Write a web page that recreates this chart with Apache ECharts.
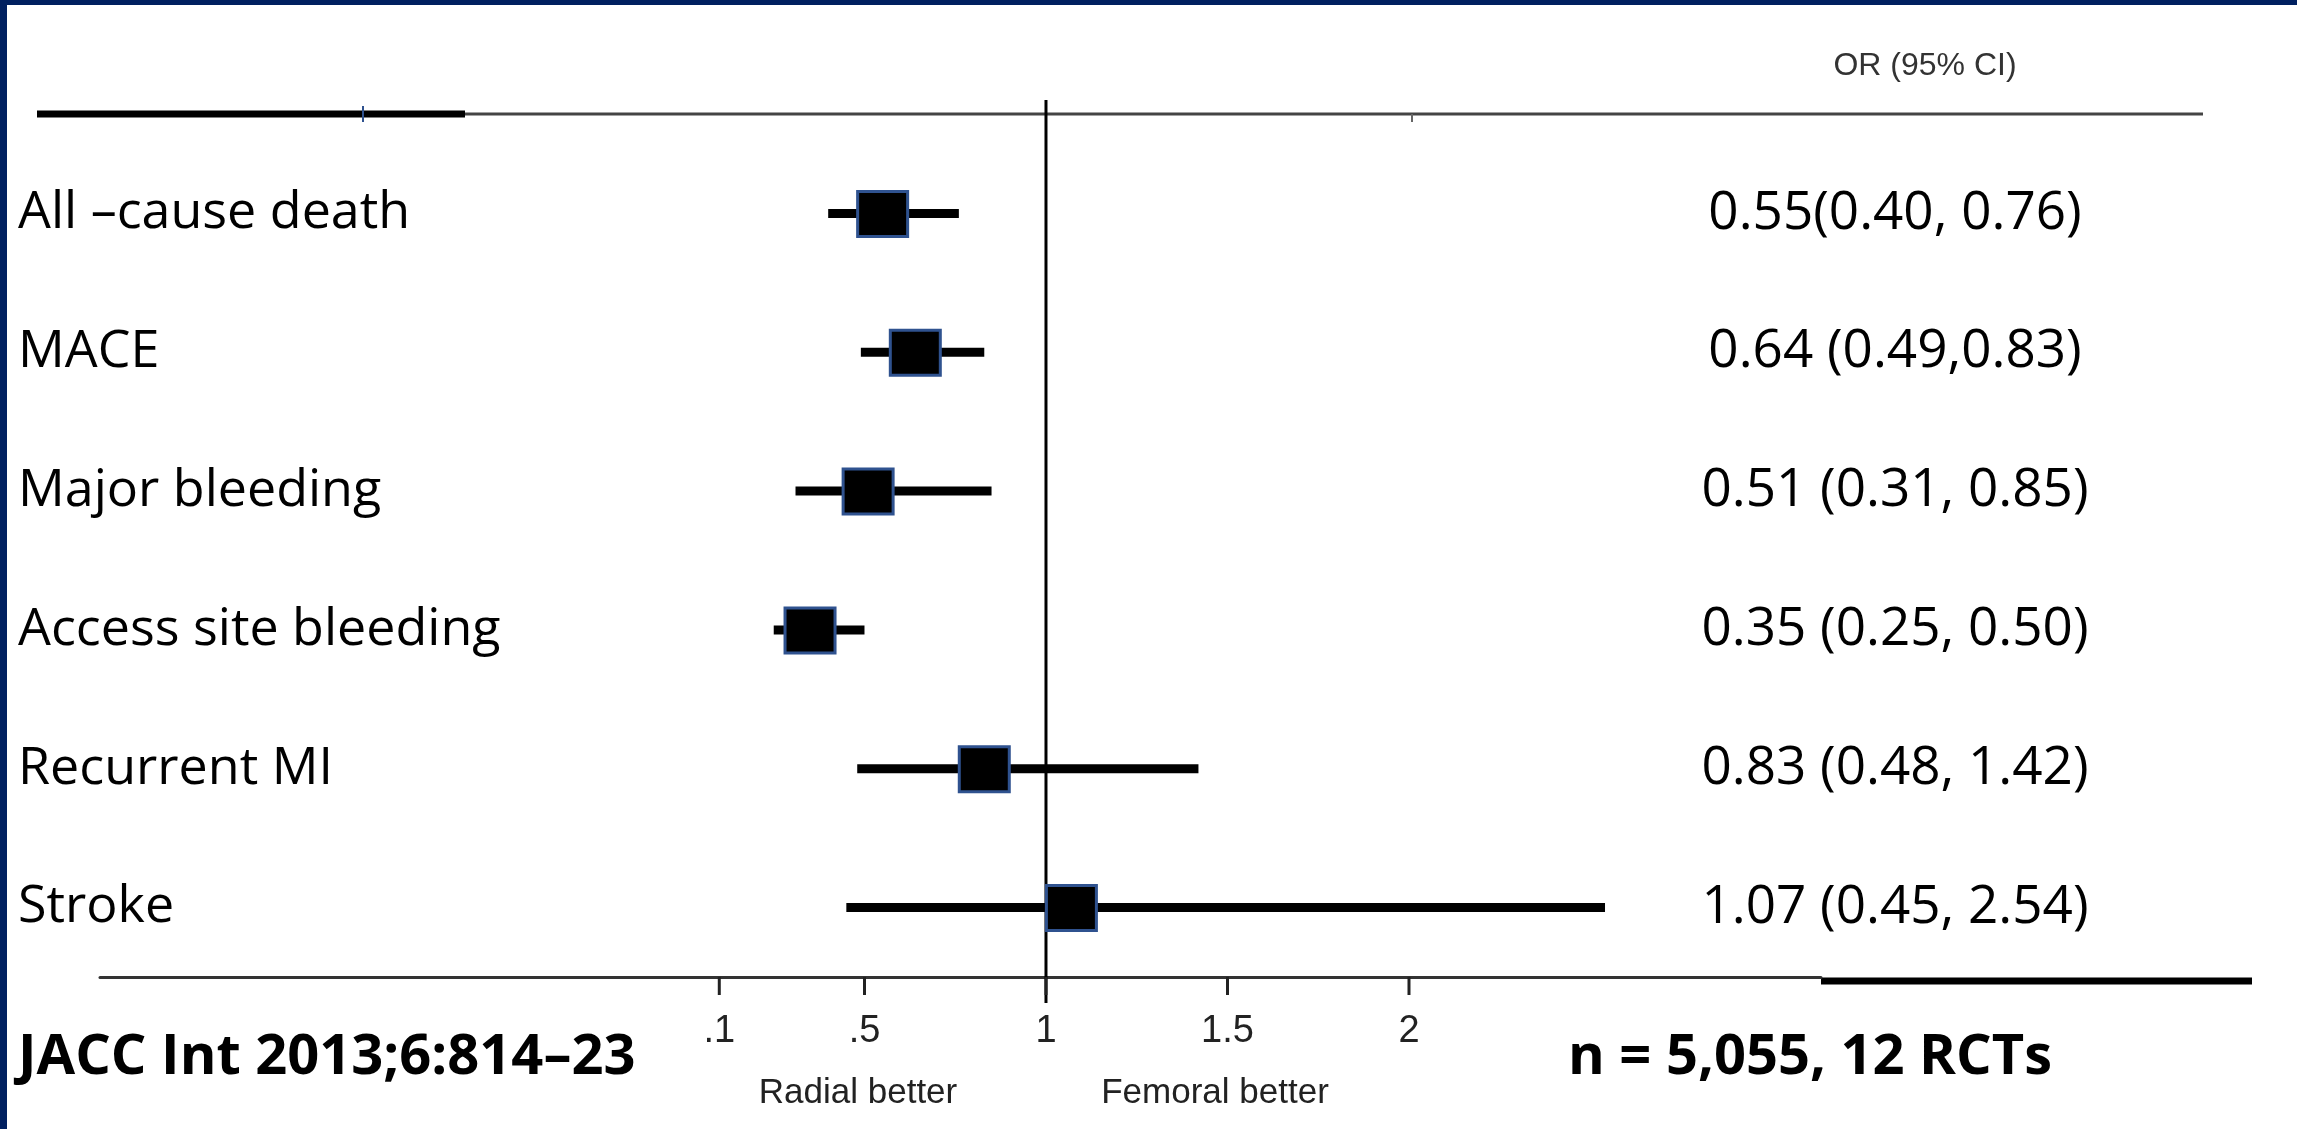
<!DOCTYPE html>
<html>
<head>
<meta charset="utf-8">
<style>
    html, body { margin: 0; padding: 0; background: #fff; }
    #chart { width: 2297px; height: 1129px; }
</style>
<script src="https://cdn.jsdelivr.net/npm/echarts@6.0.0/dist/echarts.min.js"></script>
</head>
<body>
<div id="chart"></div>
<script>
// data
var outcomes = ['All \u2013cause death', 'MACE', 'Major bleeding', 'Access site bleeding', 'Recurrent MI', 'Stroke'];
var oddsRatio = [0.55, 0.64, 0.51, 0.35, 0.83, 1.07];
var ciLow = [0.40, 0.49, 0.31, 0.25, 0.48, 0.45];
var ciHigh = [0.76, 0.83, 0.85, 0.50, 1.42, 2.54];
var ciText = ['0.55(0.40, 0.76)', '0.64 (0.49,0.83)', '0.51 (0.31, 0.85)', '0.35 (0.25, 0.50)', '0.83 (0.48, 1.42)', '1.07 (0.45, 2.54)'];
var tickValues = [0.1, 0.5, 1, 1.5, 2];
var tickLabels = ['.1', '.5', '1', '1.5', '2'];
var refValue = 1;

var forestData = [];
for (let i = 0; i < outcomes.length; i++) {
    forestData.push([ciLow[i], ciHigh[i], oddsRatio[i], i]);
}

var chart = echarts.init(document.getElementById('chart'));

var option = {
    animation: false,
    backgroundColor: '#fff',
    grid: { left: 100, right: 476, top: 144, bottom: 152 },
    xAxis: {
        type: 'value',
        min: -1.606,
        max: 3.135,
        axisLine: { show: true, onZero: false, lineStyle: { color: '#333', width: 3 } },
        axisTick: { show: false },
        axisLabel: {
            customValues: tickValues,
            formatter: function (v) {
                let idx = 0;
                for (let k = 0; k < tickValues.length; k++) {
                    if (Math.abs(tickValues[k] - v) < 1e-6) idx = k;
                }
                return tickLabels[idx];
            },
            margin: 36,
            fontSize: 38,
            fontFamily: 'Liberation Sans',
            color: '#222'
        },
        splitLine: { show: false }
    },
    yAxis: [{
        type: 'category',
        data: outcomes,
        inverse: true,
        axisLine: { show: false },
        axisTick: { show: false },
        axisLabel: {
            align: 'left',
            margin: 82,
            fontSize: 52,
            fontFamily: 'Open Sans',
            color: '#000'
        }
    }, {
        type: 'category',
        position: 'right',
        data: ciText,
        inverse: true,
        axisLine: { show: false },
        axisTick: { show: false },
        axisLabel: {
            align: 'center',
            margin: 74,
            fontSize: 53,
            fontFamily: 'Open Sans',
            color: '#000'
        }
    }],
    series: [{
        // vertical line of no effect plus the axis ticks, placed through the x scale
        type: 'custom',
        data: [[refValue, 0]],
        encode: { x: 0, y: 1 },
        clip: false,
        renderItem: function (params, api) {
            var p = api.coord([api.value(0), 0]);
            var cs = params.coordSys;
            var yb = cs.y + cs.height;
            var children = [{
                type: 'line',
                shape: { x1: p[0], y1: cs.y - 44, x2: p[0], y2: yb + 26 },
                style: { stroke: '#000', lineWidth: 3 }
            }];
            for (let k = 0; k < tickValues.length; k++) {
                var t = api.coord([tickValues[k], 0]);
                children.push({
                    type: 'line',
                    shape: { x1: t[0], y1: yb, x2: t[0], y2: yb + 18 },
                    style: { stroke: '#222', lineWidth: 3 }
                });
            }
            return { type: 'group', children: children };
        },
        z: 1
    }, {
        type: 'custom',
        data: forestData,
        encode: { x: [0, 1, 2], y: 3 },
        renderItem: function (params, api) {
            var row = api.value(3);
            var p0 = api.coord([api.value(0), row]);
            var p1 = api.coord([api.value(1), row]);
            var pc = api.coord([api.value(2), row]);
            return {
                type: 'group',
                children: [{
                    type: 'line',
                    shape: { x1: p0[0], y1: p0[1], x2: p1[0], y2: p1[1] },
                    style: { stroke: '#000', lineWidth: 9 }
                }, {
                    type: 'rect',
                    shape: { x: pc[0] - 25, y: pc[1] - 22, width: 50, height: 45 },
                    style: { fill: '#000', stroke: '#2f528f', lineWidth: 3 }
                }]
            };
        },
        z: 2
    }],
    graphic: [
        // slide frame
        { type: 'rect', shape: { x: 0, y: 0, width: 2297, height: 5 }, style: { fill: '#002060' } },
        { type: 'rect', shape: { x: 0, y: 0, width: 7, height: 1129 }, style: { fill: '#002060' } },
        // top rule
        { type: 'line', shape: { x1: 465, y1: 114, x2: 2203, y2: 114 }, style: { stroke: '#444', lineWidth: 3 } },
        { type: 'line', shape: { x1: 37, y1: 114, x2: 465, y2: 114 }, style: { stroke: '#000', lineWidth: 7 } },
        { type: 'line', shape: { x1: 363, y1: 106, x2: 363, y2: 122 }, style: { stroke: '#2f528f', lineWidth: 2 } },
        { type: 'line', shape: { x1: 1412, y1: 114, x2: 1412, y2: 122 }, style: { stroke: '#666', lineWidth: 2 } },
        // bottom rule extension
        { type: 'line', shape: { x1: 1821, y1: 981, x2: 2252, y2: 981 }, style: { stroke: '#000', lineWidth: 7 } },
        {
            type: 'text', x: 1925, y: 66,
            style: { text: 'OR (95% CI)', font: '32px "Liberation Sans"', fill: '#333', align: 'center', verticalAlign: 'middle' }
        },
        {
            type: 'text', x: 858, y: 1093,
            style: { text: 'Radial better', font: '35px "Liberation Sans"', fill: '#222', align: 'center', verticalAlign: 'middle' }
        },
        {
            type: 'text', x: 1215, y: 1093,
            style: { text: 'Femoral better', font: '35px "Liberation Sans"', fill: '#222', align: 'center', verticalAlign: 'middle' }
        },
        {
            type: 'text', x: 18, y: 1058,
            style: { text: 'JACC Int 2013;6:814\u201323', font: 'bold 56px "Open Sans"', fill: '#000', align: 'left', verticalAlign: 'middle' }
        },
        {
            type: 'text', x: 1568, y: 1058,
            style: { text: 'n = 5,055, 12 RCTs', font: 'bold 56px "Open Sans"', fill: '#000', align: 'left', verticalAlign: 'middle' }
        }
    ]
};

chart.setOption(option);
</script>
</body>
</html>
